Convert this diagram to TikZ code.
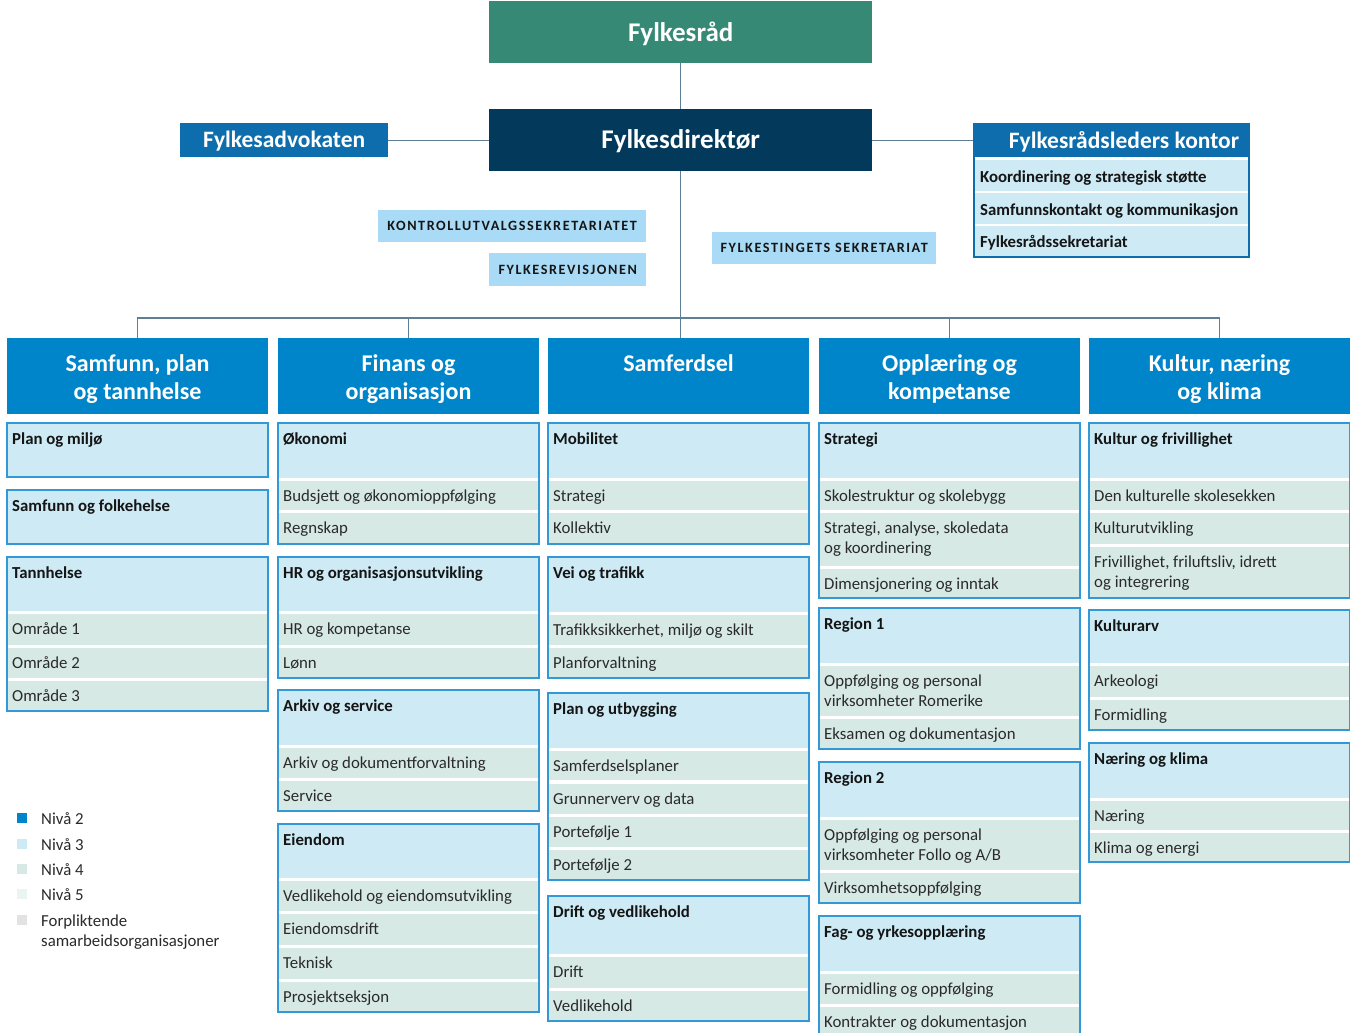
\documentclass[tikz,border=0pt]{standalone}
\usepackage{fontspec}
\setmainfont{Carlito}
\newfontfamily\spacedfont[LetterSpace=11]{Carlito}
\definecolor{raad}{HTML}{358975}
\definecolor{dir}{HTML}{033A5B}
\definecolor{advblue}{HTML}{0D6DAD}
\definecolor{lev2}{HTML}{0085CA}
\definecolor{lev3}{HTML}{CDEAF5}
\definecolor{lev4}{HTML}{D6E9E4}
\definecolor{lev5}{HTML}{EAF4F1}
\definecolor{forpl}{HTML}{E2E2E2}
\definecolor{bordc}{HTML}{3399D6}
\definecolor{kontr}{HTML}{A9DBF6}
\definecolor{connc}{HTML}{5E7F96}
\definecolor{txt}{HTML}{151515}
\definecolor{txtb}{HTML}{2A2A2A}
\tikzset{
  areafill/.style={anchor=north west, inner sep=0, outer sep=0, minimum width=261pt, draw=none},
  framebox/.style={anchor=north west, inner sep=0, outer sep=0, minimum width=261pt, draw=bordc, line width=1.6pt},
  tthree/.style={anchor=base west, inner sep=0, font=\fontsize{16.8}{20}\selectfont\bfseries, text=txt, align=left},
  tfour/.style={anchor=base west, inner sep=0, font=\fontsize{16.8}{20}\selectfont, text=txtb, align=left},
  levtwo/.style={anchor=north west, inner sep=0, minimum width=261pt, minimum height=76pt, fill=lev2},
  levtwotxt/.style={anchor=base, inner sep=0, font=\fontsize{24}{28}\selectfont\bfseries, text=white, align=center},
  kbox/.style={anchor=north west, inner sep=0, fill=kontr, font=\fontsize{14.2}{16}\spacedfont\bfseries, text=txt},
  conn/.style={draw=connc, line width=1.3pt},
  legsq/.style={inner sep=0, minimum size=10pt, draw=none},
}
\newcommand\hdr[5]{%
  \node[areafill, fill=lev3, minimum height=#4-#3] (#1) at (#2,#3) {};
  \node[tthree] (#1t) at (#2+5,#3+21) {#5};}
\newcommand\rwb[5]{%
  \node[areafill, fill=lev4, minimum height=#4-#3] (#1) at (#2,#3) {};
  \node[tfour] (#1t) at (#2+5,#3+20.5) {#5};}
\newcommand\rwbb[6]{%
  \node[areafill, fill=lev4, minimum height=#4-#3] (#1) at (#2,#3) {};
  \node[tfour] (#1t) at (#2+5,#3+40.5) {#5\\#6};}
\newcommand\frm[4]{\node[framebox, minimum height=#4-#3] (#1) at (#2,#3) {};}
\begin{document}
\begin{tikzpicture}[x=1pt,y=-1pt]
\useasboundingbox[fill=white] (0,0) rectangle (1350,1033);

% ---------- top ----------
\node[anchor=north west, inner sep=0, minimum width=383pt, minimum height=62pt, fill=raad, text=white, text depth=1.5pt, font=\fontsize{27}{30}\selectfont\bfseries] (fr) at (489,1) {Fylkesråd};
\node[anchor=north west, inner sep=0, minimum width=383pt, minimum height=62pt, fill=dir, text=white, text depth=1.5pt, font=\fontsize{27}{30}\selectfont\bfseries] (fd) at (489,109) {Fylkesdirektør};
\node[anchor=north west, inner sep=0, minimum width=208pt, minimum height=34pt, fill=advblue, text=white, text depth=2pt, font=\fontsize{23.5}{26}\selectfont\bfseries] (fa) at (180,123) {Fylkesadvokaten};

% Fylkesraadsleders kontor
\node[anchor=north west, inner sep=0, minimum width=275pt, minimum height=34pt, fill=advblue] (fkh) at (973,123) {};
\node[inner sep=0, text=white, font=\fontsize{23.5}{26}\selectfont\bfseries] (fkht) at (1124,141.5) {Fylkesrådsleders kontor};
\node[anchor=north west, inner sep=0, minimum width=275pt, minimum height=31pt, fill=lev3] (fk1) at (973,160) {};
\node[anchor=north west, inner sep=0, minimum width=275pt, minimum height=31pt, fill=lev3] (fk2) at (973,193) {};
\node[anchor=north west, inner sep=0, minimum width=275pt, minimum height=30pt, fill=lev3] (fk3) at (973,226) {};
\node[tthree] (fk1t) at (980,182) {Koordinering og strategisk støtte};
\node[tthree] (fk2t) at (980,215) {Samfunnskontakt og kommunikasjon};
\node[tthree] (fk3t) at (980,247) {Fylkesrådssekretariat};
\node[anchor=north west, inner sep=0, minimum width=275pt, minimum height=133pt, draw=advblue, line width=1.5pt] (fkf) at (973,123) {};

% kontroll
\node[kbox, minimum width=268pt, minimum height=32pt] (kus) at (378,210) {\raisebox{-1pt}{KONTROLLUTVALGSSEKRETARIATET}};
\node[kbox, minimum width=157pt, minimum height=33pt] (frev) at (489,253) {\raisebox{-1pt}{FYLKESREVISJONEN}};
\node[kbox, minimum width=224pt, minimum height=32pt] (fts) at (712,232) {\raisebox{-1pt}{FYLKESTINGETS SEKRETARIAT}};

% ---------- level 2 headers ----------
\node[levtwo] (h1) at (7,338) {};
\node[levtwo] (h2) at (278,338) {};
\node[levtwo] (h3) at (548,338) {};
\node[levtwo] (h4) at (819,338) {};
\node[levtwo] (h5) at (1089,338) {};
\node[levtwotxt] (h1t) at (137.5,399) {Samfunn, plan\\og tannhelse};
\node[levtwotxt] (h2t) at (408.5,399) {Finans og\\organisasjon};
\node[levtwotxt] (h3t) at (678.5,371) {Samferdsel};
\node[levtwotxt] (h4t) at (949.5,399) {Opplæring og\\kompetanse};
\node[levtwotxt] (h5t) at (1219.5,399) {Kultur, næring\\og klima};

% ---------- connectors ----------
\draw[conn] (fr.south) -- (fd.north);
\draw[conn] (fd.west) -- (fa.east);
\draw[conn] (fd.east) -- (fkh.west);
\draw[conn] (fd.south) -- (fd.south |- h3.north);
\coordinate (bus) at (680,318);
\draw[conn] (h1.north) -- (h1.north |- bus) -- (h5.north |- bus) -- (h5.north);
\draw[conn] (h2.north) -- (h2.north |- bus);
\draw[conn] (h4.north) -- (h4.north |- bus);

% ---------- column 1 ----------
\hdr{pm}{7}{423}{477}{Plan og miljø}
\frm{pmf}{7}{423}{477}
\hdr{sf}{7}{490}{544}{Samfunn og folkehelse}
\frm{sff}{7}{490}{544}
\hdr{th}{7}{557}{611}{Tannhelse}
\rwb{th1}{7}{614}{645}{Område 1}
\rwb{th2}{7}{648}{678}{Område 2}
\rwb{th3}{7}{681}{711}{Område 3}
\frm{thf}{7}{557}{711}

% ---------- column 2 ----------
\hdr{ok}{278}{423}{478}{Økonomi}
\rwb{ok1}{278}{481}{510}{Budsjett og økonomioppfølging}
\rwb{ok2}{278}{513}{544}{Regnskap}
\frm{okf}{278}{423}{544}
\hdr{hr}{278}{557}{611}{HR og organisasjonsutvikling}
\rwb{hr1}{278}{614}{645}{HR og kompetanse}
\rwb{hr2}{278}{648}{678}{Lønn}
\frm{hrf}{278}{557}{678}
\hdr{ar}{278}{690}{745}{Arkiv og service}
\rwb{ar1}{278}{748}{778}{Arkiv og dokumentforvaltning}
\rwb{ar2}{278}{781}{811}{Service}
\frm{arf}{278}{690}{811}
\hdr{ei}{278}{824}{878}{Eiendom}
\rwb{ei1}{278}{881}{911}{Vedlikehold og eiendomsutvikling}
\rwb{ei2}{278}{914}{945}{Eiendomsdrift}
\rwb{ei3}{278}{948}{979}{Teknisk}
\rwb{ei4}{278}{982}{1012}{Prosjektseksjon}
\frm{eif}{278}{824}{1012}

% ---------- column 3 ----------
\hdr{mo}{548}{423}{478}{Mobilitet}
\rwb{mo1}{548}{481}{510}{Strategi}
\rwb{mo2}{548}{513}{544}{Kollektiv}
\frm{mof}{548}{423}{544}
\hdr{vt}{548}{557}{612}{Vei og trafikk}
\rwb{vt1}{548}{615}{645}{Trafikksikkerhet, miljø og skilt}
\rwb{vt2}{548}{648}{678}{Planforvaltning}
\frm{vtf}{548}{557}{678}
\hdr{pu}{548}{693}{748}{Plan og utbygging}
\rwb{pu1}{548}{751}{780}{Samferdselsplaner}
\rwb{pu2}{548}{784}{814}{Grunnerverv og data}
\rwb{pu3}{548}{817}{847}{Portefølje 1}
\rwb{pu4}{548}{850}{880}{Portefølje 2}
\frm{puf}{548}{693}{880}
\hdr{dv}{548}{896}{954}{Drift og vedlikehold}
\rwb{dv1}{548}{957}{988}{Drift}
\rwb{dv2}{548}{991}{1021}{Vedlikehold}
\frm{dvf}{548}{896}{1021}

% ---------- column 4 ----------
\hdr{st}{819}{423}{478}{Strategi}
\rwb{st1}{819}{481}{510}{Skolestruktur og skolebygg}
\rwbb{st2}{819}{513}{566}{Strategi, analyse, skoledata}{og koordinering}
\rwb{st3}{819}{569}{598}{Dimensjonering og inntak}
\frm{stf}{819}{423}{598}
\hdr{ra}{819}{608}{663}{Region 1}
\rwbb{ra1}{819}{666}{716}{Oppfølging og personal}{virksomheter Romerike}
\rwb{ra2}{819}{719}{749}{Eksamen og dokumentasjon}
\frm{raf}{819}{608}{749}
\hdr{rb}{819}{762}{817}{Region 2}
\rwbb{rb1}{819}{820}{870}{Oppfølging og personal}{virksomheter Follo og A/B}
\rwb{rb2}{819}{873}{903}{Virksomhetsoppfølging}
\frm{rbf}{819}{762}{903}
\hdr{fy}{819}{916}{971}{Fag- og yrkesopplæring}
\rwb{fy1}{819}{974}{1004}{Formidling og oppfølging}
\rwb{fy2}{819}{1007}{1045}{Kontrakter og dokumentasjon}
\frm{fyf}{819}{916}{1045}

% ---------- column 5 ----------
\hdr{kf}{1089}{423}{478}{Kultur og frivillighet}
\rwb{kf1}{1089}{481}{510}{Den kulturelle skolesekken}
\rwb{kf2}{1089}{513}{544}{Kulturutvikling}
\rwbb{kf3}{1089}{547}{598}{Frivillighet, friluftsliv, idrett}{og integrering}
\frm{kff}{1089}{423}{598}
\hdr{ka}{1089}{610}{663}{Kulturarv}
\rwb{ka1}{1089}{666}{697}{Arkeologi}
\rwb{ka2}{1089}{700}{730}{Formidling}
\frm{kaf}{1089}{610}{730}
\hdr{nk}{1089}{743}{798}{Næring og klima}
\rwb{nk1}{1089}{801}{830}{Næring}
\rwb{nk2}{1089}{833}{862}{Klima og energi}
\frm{nkf}{1089}{743}{862}

% ---------- legend ----------
\node[legsq, fill=lev2] (lg2) at (22,818) {};
\node[legsq, fill=lev3] (lg3) at (22,844) {};
\node[legsq, fill=lev4] (lg4) at (22,869) {};
\node[legsq, fill=lev5] (lg5) at (22,894) {};
\node[legsq, fill=forpl] (lgf) at (22,920) {};
\node[tfour] (lg2t) at (41,824) {Nivå 2};
\node[tfour] (lg3t) at (41,850) {Nivå 3};
\node[tfour] (lg4t) at (41,875) {Nivå 4};
\node[tfour] (lg5t) at (41,900) {Nivå 5};
\node[tfour] (lgft) at (41,946) {Forpliktende\\samarbeidsorganisasjoner};
\end{tikzpicture}
\end{document}
